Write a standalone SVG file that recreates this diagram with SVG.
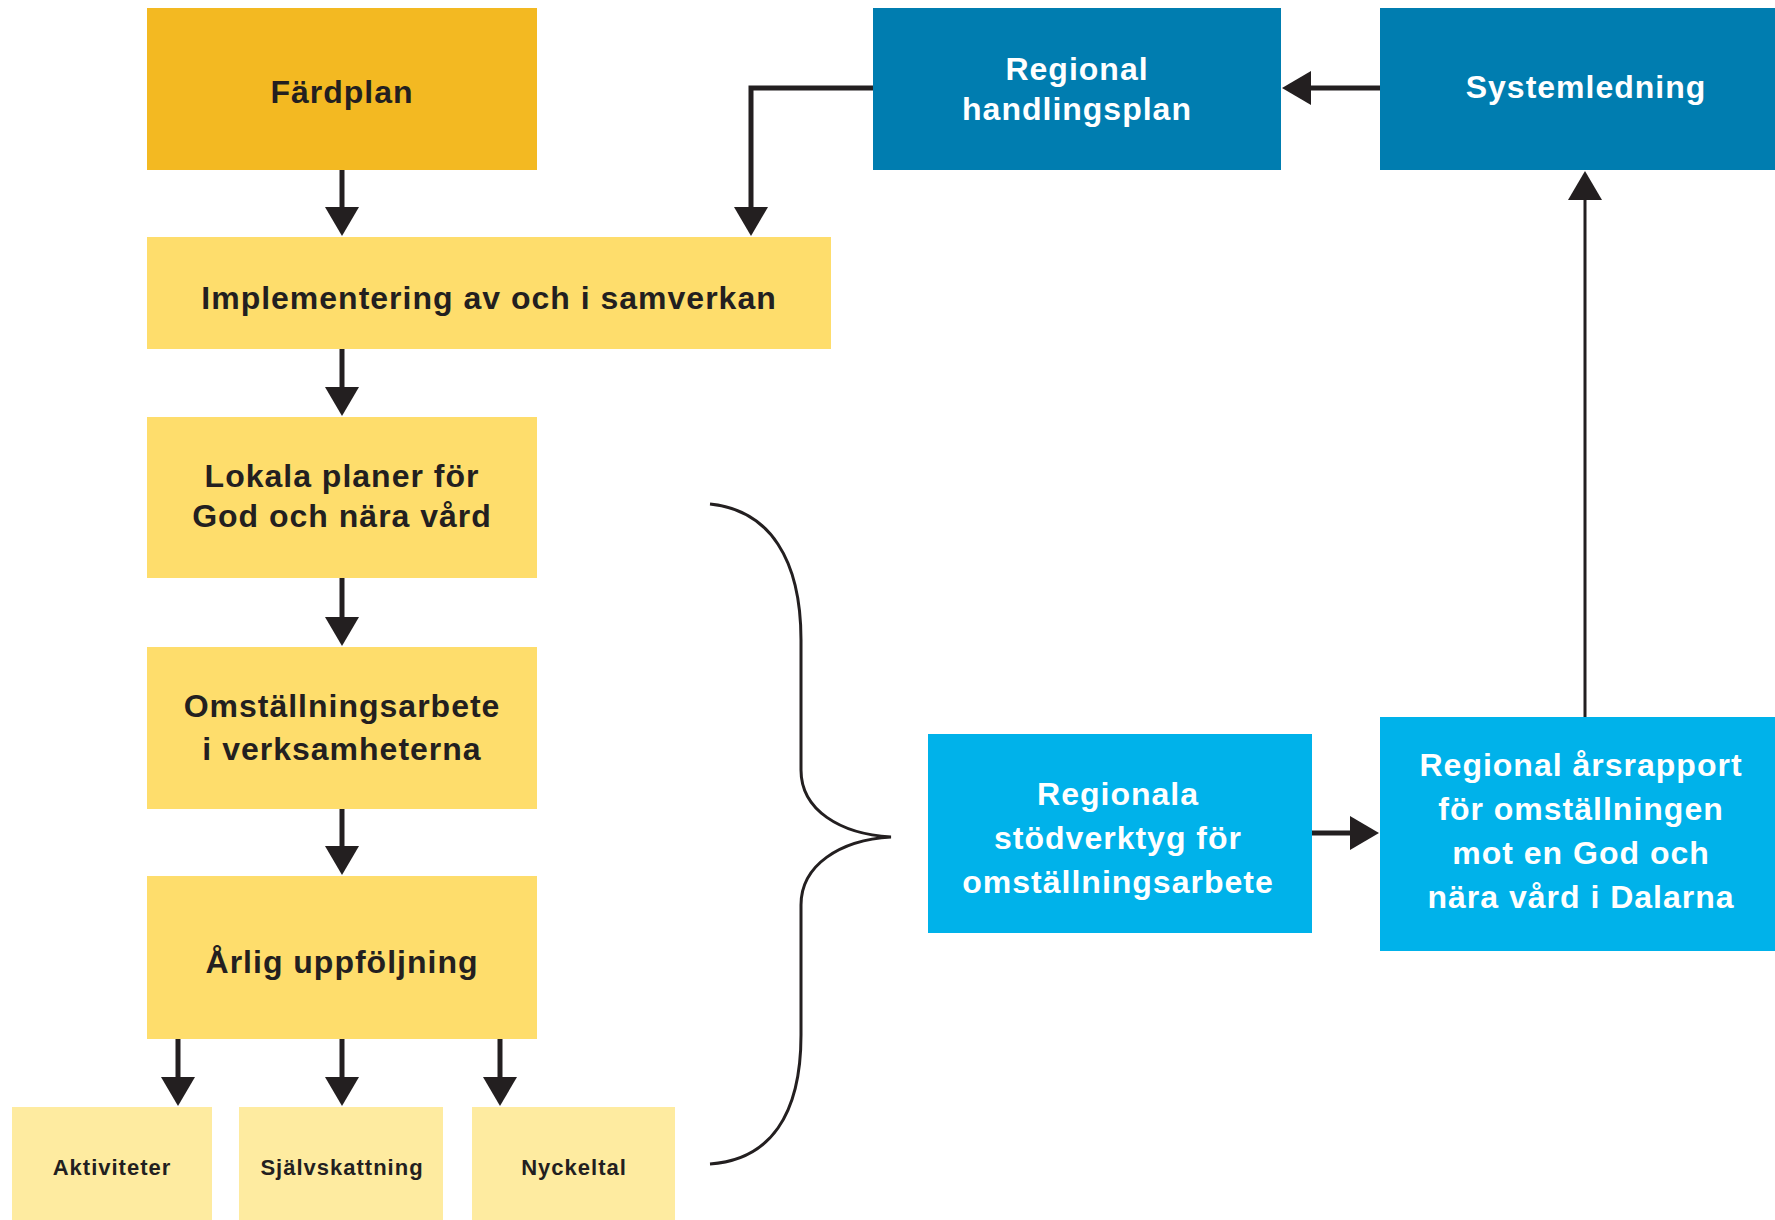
<svg xmlns="http://www.w3.org/2000/svg" width="1775" height="1220" viewBox="0 0 1775 1220">
<style>
.t{font-family:"Liberation Sans",Arial,sans-serif;font-weight:bold;font-size:32px;letter-spacing:1px;text-anchor:middle;fill:#231F20}
.w{fill:#FFFFFF}
.s{font-size:22px;letter-spacing:1px}
.c{fill:none;stroke:#231F20;stroke-width:5}
.thin{stroke-width:3}
.orange{fill:#F3B922}
.yellow{fill:#FEDD6C}
.pale{fill:#FEEBA0}
.dblue{fill:#007DB0}
.lblue{fill:#00B2EA}
</style>
<defs>
<marker id="ah" viewBox="0 0 29 34" refX="1" refY="17" markerWidth="29" markerHeight="34" markerUnits="userSpaceOnUse" orient="auto">
<path d="M0,0 L29,17 L0,34 Z" fill="#231F20"/>
</marker>
</defs>
<rect width="1775" height="1220" fill="#FFFFFF"/>

<g id="fardplan"><rect class="orange" x="147" y="8" width="390" height="162"/><text class="t" x="342" y="103">Färdplan</text></g>
<g id="implementering"><rect class="yellow" x="147" y="237" width="684" height="112"/><text class="t" x="489" y="309">Implementering av och i samverkan</text></g>
<g id="regional-handlingsplan"><rect class="dblue" x="873" y="8" width="408" height="162"/><text class="t w" x="1077" y="80">Regional</text><text class="t w" x="1077" y="120">handlingsplan</text></g>
<g id="systemledning"><rect class="dblue" x="1380" y="8" width="395" height="162"/><text class="t w" x="1586" y="98">Systemledning</text></g>
<g id="lokala"><rect class="yellow" x="147" y="417" width="390" height="161"/><text class="t" x="342" y="487">Lokala planer för</text><text class="t" x="342" y="527">God och nära vård</text></g>
<g id="omstallning"><rect class="yellow" x="147" y="647" width="390" height="162"/><text class="t" x="342" y="717">Omställningsarbete</text><text class="t" x="342" y="760">i verksamheterna</text></g>
<g id="arlig"><rect class="yellow" x="147" y="876" width="390" height="163"/><text class="t" x="342" y="973">Årlig uppföljning</text></g>
<g id="aktiviteter"><rect class="pale" x="12" y="1107" width="200" height="113"/><text class="t s" x="112" y="1175">Aktiviteter</text></g>
<g id="sjalvskattning"><rect class="pale" x="239" y="1107" width="204" height="113"/><text class="t s" x="342" y="1175">Självskattning</text></g>
<g id="nyckeltal"><rect class="pale" x="472" y="1107" width="203" height="113"/><text class="t s" x="574" y="1175">Nyckeltal</text></g>
<g id="regionala-stodverktyg"><rect class="lblue" x="928" y="734" width="384" height="199"/><text class="t w" x="1118" y="805">Regionala</text><text class="t w" x="1118" y="849">stödverktyg för</text><text class="t w" x="1118" y="893">omställningsarbete</text></g>
<g id="arsrapport"><rect class="lblue" x="1380" y="717" width="395" height="234"/><text class="t w" x="1581" y="776">Regional årsrapport</text><text class="t w" x="1581" y="820">för omställningen</text><text class="t w" x="1581" y="864">mot en God och</text><text class="t w" x="1581" y="908">nära vård i Dalarna</text></g>

<g id="connectors">
<path class="c" d="M342,170 V208" marker-end="url(#ah)"/>
<path class="c" d="M873,88 H751 V208" marker-end="url(#ah)"/>
<path class="c" d="M1380,88 H1310" marker-end="url(#ah)"/>
<path class="c" d="M342,349 V388" marker-end="url(#ah)"/>
<path class="c" d="M342,578 V618" marker-end="url(#ah)"/>
<path class="c" d="M342,809 V847" marker-end="url(#ah)"/>
<path class="c" d="M178,1039 V1078" marker-end="url(#ah)"/>
<path class="c" d="M342,1039 V1078" marker-end="url(#ah)"/>
<path class="c" d="M500,1039 V1078" marker-end="url(#ah)"/>
<path class="c" d="M1312,833 H1351" marker-end="url(#ah)"/>
<path class="c thin" d="M1585,717 V199" marker-end="url(#ah)"/>
<path class="c thin" d="M710,504 C770,510 801,560 801,640 V770 C801,810 840,834 891,837 C840,840 801,865 801,905 V1035 C801,1115 770,1160 710,1164"/>
</g>
</svg>
